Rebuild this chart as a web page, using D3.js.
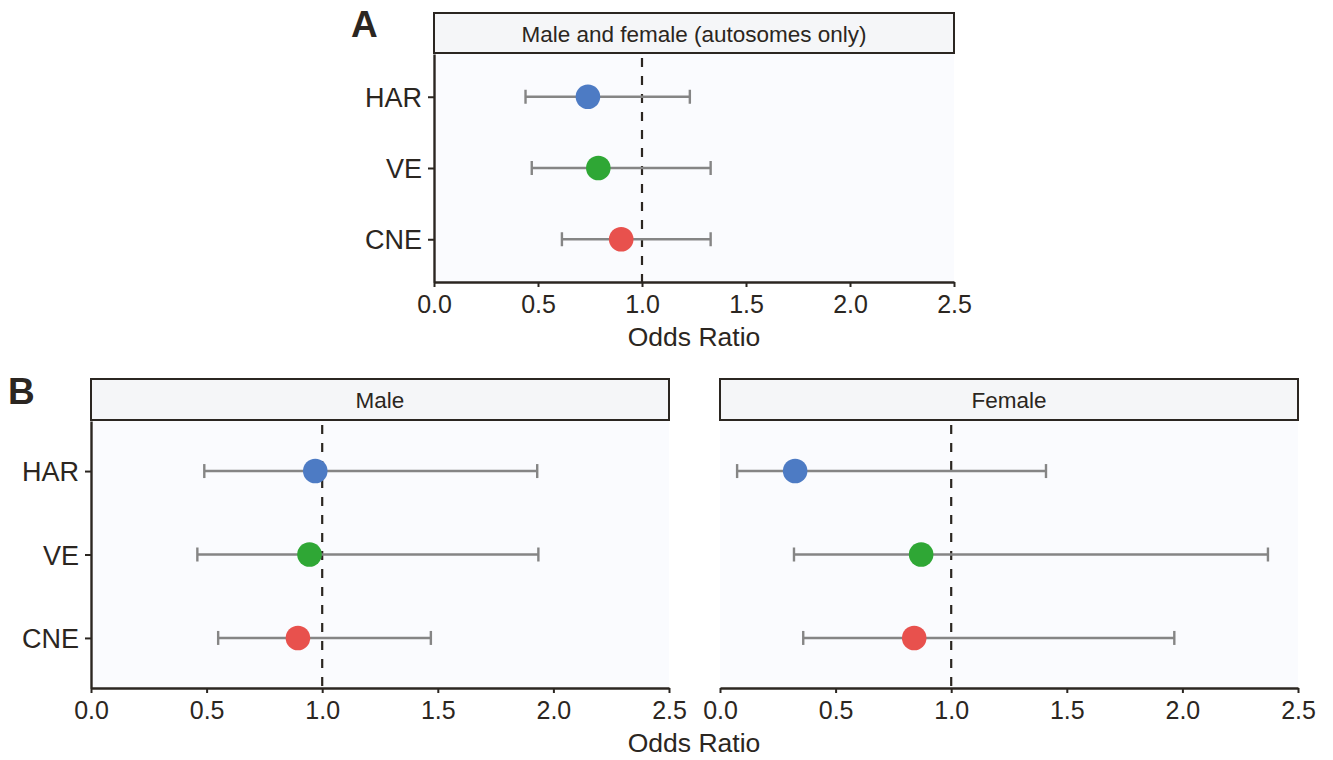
<!DOCTYPE html>
<html>
<head>
<meta charset="utf-8">
<script src="https://cdn.jsdelivr.net/npm/d3@7"></script>
<style>
  body { margin: 0; background: #fff; }
  svg { font-family: "Liberation Sans", Arial, Helvetica, sans-serif; }
</style>
</head>
<body>
<div id="canvas"></div>
<script>
(function(d3){

  // data
  var categories = ["HAR", "VE", "CNE"],
      pointColors = ["#4d7bc4", "#2fa735", "#e8514d"],
      xTicks = [0, 0.5, 1, 1.5, 2, 2.5],
      allOR = [0.74, 0.79, 0.90],
      allLo = [0.44, 0.47, 0.615],
      allHi = [1.23, 1.33, 1.33],
      maleOR = [0.97, 0.945, 0.895],
      maleLo = [0.49, 0.46, 0.55],
      maleHi = [1.93, 1.935, 1.47],
      femaleOR = [0.325, 0.87, 0.84],
      femaleLo = [0.074, 0.32, 0.36],
      femaleHi = [1.41, 2.37, 1.965];

  var ink = "#2b2621",
      canvas_d = {width: 1333, height: 760};

  var svg = d3.select("#canvas").append("svg")
      .attr("width", canvas_d.width)
      .attr("height", canvas_d.height);

  function rows(or, lo, hi) {
    return categories.map(function(c, i) {
      return {cat: c, or: or[i], lo: lo[i], hi: hi[i], color: pointColors[i]};
    });
  }

  /**
   * One facet: strip, panel, error bars, points, axes.
   */
  function drawPanel(p) {
    var g = svg.append("g");
    var x = d3.scaleLinear().domain([0, 2.5]).range([p.left, p.right]);
    var y = d3.scalePoint().domain(categories).range([p.top, p.bottom]).padding(0.6);

    g.append("rect")
        .attr("x", p.left).attr("y", p.top)
        .attr("width", p.right - p.left).attr("height", p.bottom - p.top)
        .attr("fill", "#fafbfe");

    // strip
    g.append("rect")
        .attr("x", p.left).attr("y", p.stripTop)
        .attr("width", p.right - p.left).attr("height", p.top - p.stripTop - 1)
        .attr("fill", "#f5f6f8").attr("stroke", ink).attr("stroke-width", 2);
    g.append("text")
        .attr("x", (p.left + p.right) / 2)
        .attr("y", (p.stripTop + p.top) / 2)
        .attr("dy", "0.36em")
        .attr("text-anchor", "middle")
        .attr("font-size", 22.5)
        .attr("fill", ink)
        .text(p.title);

    // reference line at OR = 1
    g.append("line")
        .attr("x1", x(1)).attr("x2", x(1))
        .attr("y1", p.top + 4).attr("y2", p.bottom)
        .attr("stroke", ink).attr("stroke-width", 2.2)
        .attr("stroke-dasharray", "9,9");

    var d = rows(p.or, p.lo, p.hi);
    var bars = g.selectAll(".ci").data(d).enter().append("g").attr("class", "ci")
        .attr("stroke", "#858585").attr("stroke-width", 2.4);
    bars.append("line")
        .attr("x1", function(r) { return x(r.lo); })
        .attr("x2", function(r) { return x(r.hi); })
        .attr("y1", function(r) { return y(r.cat); })
        .attr("y2", function(r) { return y(r.cat); });
    bars.append("line")
        .attr("x1", function(r) { return x(r.lo); })
        .attr("x2", function(r) { return x(r.lo); })
        .attr("y1", function(r) { return y(r.cat) - 7; })
        .attr("y2", function(r) { return y(r.cat) + 7; });
    bars.append("line")
        .attr("x1", function(r) { return x(r.hi); })
        .attr("x2", function(r) { return x(r.hi); })
        .attr("y1", function(r) { return y(r.cat) - 7; })
        .attr("y2", function(r) { return y(r.cat) + 7; });

    g.selectAll(".pt").data(d).enter().append("circle")
        .attr("class", "pt")
        .attr("cx", function(r) { return x(r.or); })
        .attr("cy", function(r) { return y(r.cat); })
        .attr("r", 12.3)
        .attr("fill", function(r) { return r.color; });

    var xAxis = g.append("g")
        .attr("transform", "translate(0," + p.bottom + ")")
        .call(d3.axisBottom(x).tickValues(xTicks).tickFormat(d3.format(".1f"))
          .tickSize(5).tickSizeOuter(0).tickPadding(8));
    styleAxis(xAxis, 25);

    if (p.showY) {
      var yAxis = g.append("g")
          .attr("transform", "translate(" + p.left + ",0)")
          .call(d3.axisLeft(y).tickSize(6).tickSizeOuter(0).tickPadding(6));
      styleAxis(yAxis, 27);
      yAxis.selectAll("text").attr("dy", "0.36em");
    }
  }

  function styleAxis(a, size) {
    a.select(".domain").attr("stroke", ink).attr("stroke-width", 2.4);
    a.selectAll(".tick line").attr("stroke", ink).attr("stroke-width", 2);
    a.selectAll(".tick text").attr("fill", ink).attr("font-size", size)
        .attr("font-family", "Liberation Sans, Arial, sans-serif");
  }

  drawPanel({left: 434, right: 954, stripTop: 13, top: 54, bottom: 282,
             title: "Male and female (autosomes only)", showY: true,
             or: allOR, lo: allLo, hi: allHi});
  drawPanel({left: 91, right: 669, stripTop: 379, top: 421, bottom: 688,
             title: "Male", showY: true,
             or: maleOR, lo: maleLo, hi: maleHi});
  drawPanel({left: 720, right: 1298, stripTop: 379, top: 421, bottom: 688,
             title: "Female", showY: false,
             or: femaleOR, lo: femaleLo, hi: femaleHi});

  // axis titles and panel letters
  svg.append("text").attr("x", 694).attr("y", 346).attr("text-anchor", "middle")
      .attr("font-size", 26.5).attr("fill", ink).text("Odds Ratio");
  svg.append("text").attr("x", 694).attr("y", 752).attr("text-anchor", "middle")
      .attr("font-size", 26.5).attr("fill", ink).text("Odds Ratio");
  svg.append("text").attr("x", 351).attr("y", 37)
      .attr("font-size", 37).attr("font-weight", "bold").attr("fill", ink).text("A");
  svg.append("text").attr("x", 8).attr("y", 404)
      .attr("font-size", 37).attr("font-weight", "bold").attr("fill", ink).text("B");

})(d3);
</script>
</body>
</html>
